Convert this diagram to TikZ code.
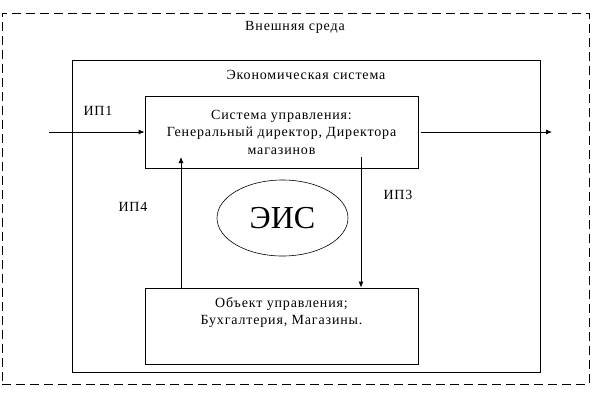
\documentclass[tikz,border=0pt]{standalone}
\usepackage{fontspec}
\setmainfont{Liberation Serif}
\newfontfamily\widefont{Liberation Serif}[LetterSpace=6]
\usetikzlibrary{shapes.geometric, arrows.meta, positioning}

\begin{document}
\begin{tikzpicture}[
    x=1pt, y=-1pt,
    frame/.style={rectangle, draw=black, line width=0.8pt, inner sep=0pt},
    block/.style={rectangle, draw=black, line width=0.8pt, align=center, font=\widefont\fontsize{14}{17.5}\selectfont},
    caption/.style={font=\widefont\fontsize{14}{17.5}\selectfont, inner sep=0pt},
    arrow/.style={draw, line width=0.8pt, -{Latex[length=6pt, width=5pt]}}
]
\useasboundingbox (0,0) rectangle (613,397);
% environment and system frames
\node [frame, dash pattern=on 9pt off 5pt, minimum width=587pt, minimum height=371pt] (env) at (295.5,198.5) {};
\node [frame, minimum width=468pt, minimum height=312pt] (econ) at (306,216) {};
\node [caption] (envname) at (295,27) {Внешняя среда};
\node [caption] (econname) at (306,75) {Экономическая система};
% control system and controlled object
\node [block, minimum width=273pt, minimum height=72pt] (ctrl) at (281.5,132) {Система управления:\\Генеральный директор, Директора\\магазинов};
\node [block, minimum width=273pt, minimum height=76pt,
       label={[anchor=north, align=center, font=\widefont\fontsize{14}{17.5}\selectfont, yshift=-6pt]north:{Объект управления;\\Бухгалтерия, Магазины.}}] (obj) at (281.5,326) {};
\node [ellipse, draw=black, line width=0.6pt, minimum width=131pt, minimum height=76pt, font=\fontsize{32}{36}\selectfont] (eis) at (282.5,218) {ЭИС};
% information flows
\coordinate (inflow) at (49,132);
\coordinate (outflow) at (552,132);
\coordinate (fbtop) at (181,157);
\coordinate (cmdtop) at (361,157);
\path [arrow] (inflow) -- (ctrl.west);
\path [arrow, shorten <=3pt] (ctrl.east) -- (outflow);
\path [arrow] (obj.north -| fbtop) -- (fbtop);
\path [arrow] (cmdtop) -- (cmdtop |- obj.north);
\node [caption] (ip1) at (98,111) {ИП1};
\node [caption] (ip4) at (133,207) {ИП4};
\node [caption] (ip3) at (398,195) {ИП3};
\end{tikzpicture}
\end{document}
